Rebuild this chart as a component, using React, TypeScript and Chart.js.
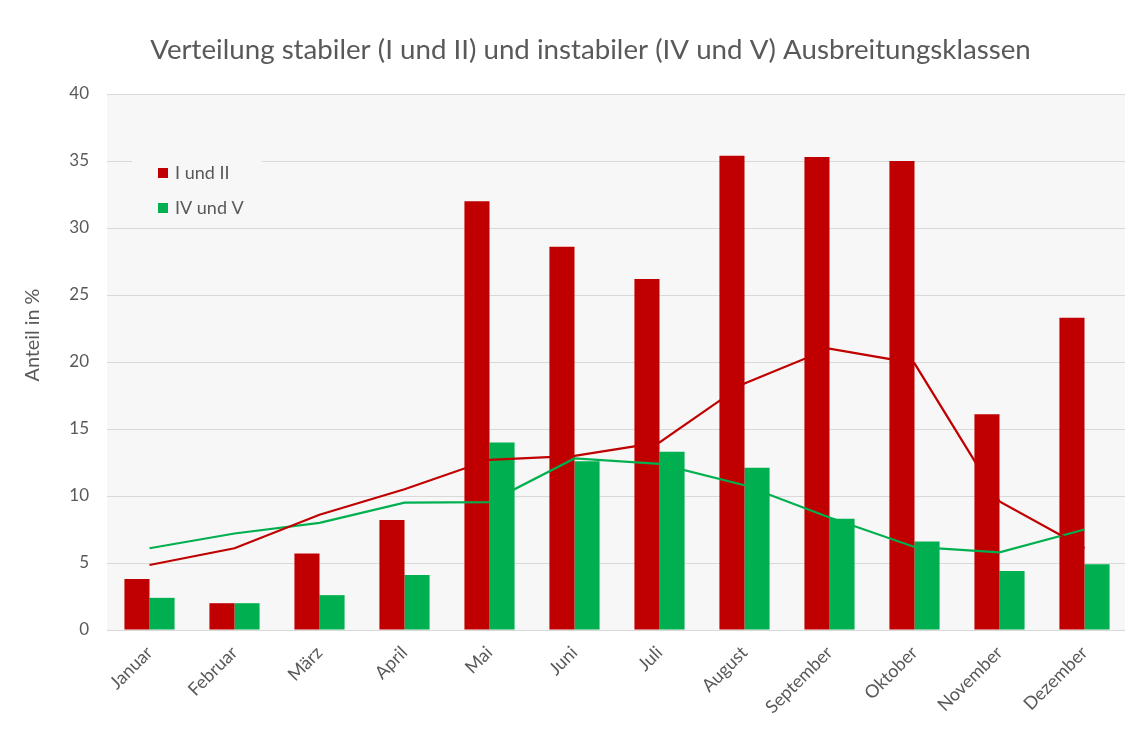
import React, { useEffect, useRef } from "react";
import { Chart, registerables } from "chart.js";

Chart.register(...registerables);

const months = ["Januar", "Februar", "März", "April", "Mai", "Juni", "Juli", "August", "September", "Oktober", "November", "Dezember"];
const stableBars = [3.8, 2.0, 5.7, 8.2, 32.0, 28.6, 26.2, 35.4, 35.3, 35.0, 16.1, 23.3];
const unstableBars = [2.4, 2.0, 2.6, 4.1, 14.0, 12.6, 13.3, 12.1, 8.3, 6.6, 4.4, 4.9];
const stableLine = [4.85, 6.1, 8.6, 10.5, 12.7, 13.0, 14.0, 18.4, 21.0, 19.9, 9.6, 6.1];
const unstableLine = [6.1, 7.2, 8.0, 9.5, 9.55, 12.8, 12.4, 10.8, 8.4, 6.2, 5.8, 7.5];
const legendLabels = ["I und II", "IV und V"];
const titleText = "Verteilung stabiler (I und II) und instabiler (IV und V) Ausbreitungsklassen";
const yTitle = "Anteil in %";

const RED = "#C00000";
const GREEN = "#00B050";
const TEXT = "#595959";
const FONT = "Lato";

const decorPlugin = {
  id: "decor",
  beforeDraw(chart: any) {
    const { ctx, chartArea } = chart;
    ctx.save();
    ctx.fillStyle = "#f7f7f7";
    ctx.fillRect(chartArea.left, chartArea.top, chartArea.right - chartArea.left, chartArea.bottom - chartArea.top);
    ctx.restore();
  },
  afterDraw(chart: any) {
    const { ctx } = chart;
    ctx.save();
    // title
    ctx.fillStyle = TEXT;
    ctx.font = `27.7px ${FONT}`;
    ctx.textAlign = "center";
    ctx.textBaseline = "middle";
    ctx.fillText(titleText, 582.5, 42);
    // y title
    ctx.save();
    ctx.translate(25, 327);
    ctx.rotate(-Math.PI / 2);
    ctx.font = `19.8px ${FONT}`;
    ctx.fillText(yTitle, 0, 0);
    ctx.restore();
    // legend
    ctx.fillStyle = "#f7f7f7";
    ctx.fillRect(124, 142, 130, 72);
    const colors = [RED, GREEN];
    const ys = [165, 200];
    ctx.font = `18px ${FONT}`;
    ctx.textAlign = "left";
    for (let i = 0; i < legendLabels.length; i++) {
      ctx.fillStyle = colors[i];
      ctx.fillRect(150, ys[i] - 5, 10, 10);
      ctx.fillStyle = TEXT;
      ctx.fillText(legendLabels[i], 167, ys[i]);
    }
    ctx.restore();
  },
};

export default function App() {
  const ref = useRef<HTMLCanvasElement>(null);
  useEffect(() => {
    const chart = new Chart(ref.current!, {
      type: "bar",
      data: {
        labels: months,
        datasets: [
          { type: "line", label: "I und II (Linie)", data: stableLine, borderColor: RED, borderWidth: 2.2, pointRadius: 0, tension: 0, order: 1 },
          { type: "line", label: "IV und V (Linie)", data: unstableLine, borderColor: GREEN, borderWidth: 2.2, pointRadius: 0, tension: 0, order: 1 },
          { type: "bar", label: legendLabels[0], data: stableBars, backgroundColor: RED, categoryPercentage: 0.59, barPercentage: 1, order: 2 },
          { type: "bar", label: legendLabels[1], data: unstableBars, backgroundColor: GREEN, categoryPercentage: 0.59, barPercentage: 1, order: 2 },
        ],
      } as any,
      options: {
        animation: false,
        responsive: false,
        layout: { padding: { left: 0, right: 6, top: 86, bottom: 0 } },
        plugins: { legend: { display: false }, tooltip: { enabled: false }, title: { display: false } },
        scales: {
          x: {
            grid: { display: false },
            border: { display: false },
            ticks: { color: TEXT, font: { family: FONT, size: 18 }, minRotation: 45, maxRotation: 45, padding: 4 },
            afterFit(scale: any) { scale.height = 108; },
          },
          y: {
            min: 0,
            max: 40,
            grid: { color: "#d9d9d9", lineWidth: 1, drawTicks: false },
            border: { display: false },
            ticks: { stepSize: 5, color: TEXT, font: { family: FONT, size: 17 }, padding: 18 },
            afterFit(scale: any) { scale.width = 99; },
          },
        },
      },
      plugins: [decorPlugin],
    });
    return () => chart.destroy();
  }, []);
  return (
    <div style={{ marginLeft: -1, marginTop: -1, border: "1px solid #d9d9d9", width: 1130, height: 740, boxSizing: "content-box" }}>
      <canvas ref={ref} width={1125} height={730} style={{ display: "block" }} />
    </div>
  );
}
